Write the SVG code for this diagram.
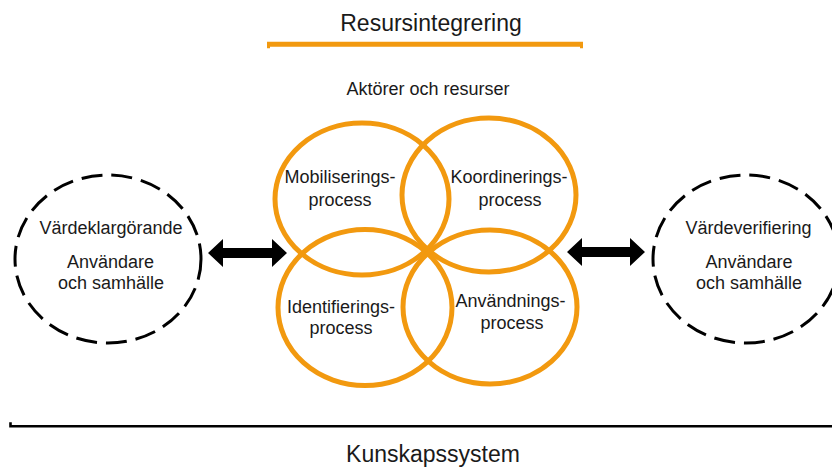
<svg xmlns="http://www.w3.org/2000/svg" width="832" height="467" viewBox="0 0 832 467">
  <style>
    text { font-family: "Liberation Sans", Arial, sans-serif; fill: #1a1a1a; text-anchor: middle; }
    .t { font-size: 18px; }
    .big { font-size: 23px; }
    .proc { fill: none; stroke: #F2990F; stroke-width: 5; }
    .dash { fill: none; stroke: #000; stroke-width: 3; stroke-dasharray: 21 9; }
    .arrow { fill: #000; }
  </style>
  <rect width="832" height="467" fill="#fff"/>

  <g id="title">
    <text class="big" x="431" y="31">Resursintegrering</text>
    <path d="M267 41.7 H583 V48.3 H580 V46.7 H270 V48.3 H267 Z" fill="#F2990F"/>
  </g>

  <g id="actors">
    <text class="t" x="428" y="95">Aktörer och resurser</text>
  </g>

  <g id="mobilisering">
    <ellipse class="proc" cx="362" cy="199" rx="87" ry="76"/>
    <text class="t" x="340" y="182.5">Mobiliserings-</text>
    <text class="t" x="340" y="206">process</text>
  </g>
  <g id="koordinering">
    <ellipse class="proc" cx="489" cy="195" rx="87" ry="77"/>
    <text class="t" x="509" y="182.5">Koordinerings-</text>
    <text class="t" x="510" y="206">process</text>
  </g>
  <g id="identifiering">
    <ellipse class="proc" cx="365" cy="307.5" rx="87" ry="78"/>
    <text class="t" x="341" y="313">Identifierings-</text>
    <text class="t" x="341" y="334">process</text>
  </g>
  <g id="anvandning">
    <ellipse class="proc" cx="490" cy="307" rx="87" ry="77"/>
    <text class="t" x="510.5" y="306.5">Användnings-</text>
    <text class="t" x="512" y="329">process</text>
  </g>

  <g id="vardeklargorande">
    <ellipse class="dash" cx="108" cy="259" rx="93" ry="84"/>
    <text class="t" x="111" y="234">Värdeklargörande</text>
    <text class="t" x="110.5" y="268">Användare</text>
    <text class="t" x="111" y="289">och samhälle</text>
  </g>

  <g id="vardeverifiering">
    <ellipse class="dash" cx="746" cy="259" rx="93" ry="84"/>
    <text class="t" x="748.5" y="234">Värdeverifiering</text>
    <text class="t" x="749" y="268">Användare</text>
    <text class="t" x="749" y="289">och samhälle</text>
  </g>

  <g id="connectors">
    <path class="arrow" d="M208 253 L223 239 V248 H272 V239 L287 253 L272 267 V258 H223 V267 Z"/>
    <path class="arrow" d="M567 252 L582 238 V247 H630 V238 L645 252 L630 266 V257 H582 V266 Z"/>
  </g>

  <g id="kunskapssystem">
    <path d="M10.5 422.3 V426.2 H832" fill="none" stroke="#000" stroke-width="2.6"/>
    <text class="big" x="433" y="462">Kunskapssystem</text>
  </g>
</svg>
